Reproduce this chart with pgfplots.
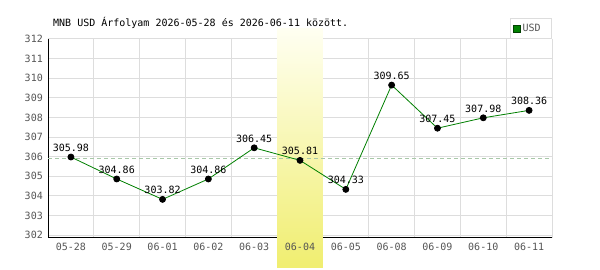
\documentclass[border=0pt]{standalone}
\usepackage{fontspec}
\setmainfont{DejaVu Sans Mono}
\usepackage{pgfplots}
\pgfplotsset{compat=1.18}
\usepackage{pgfplotstable}
\definecolor{lineg}{HTML}{008000}
\definecolor{gridgray}{HTML}{DDDDDD}
\definecolor{tickgray}{HTML}{555555}
\definecolor{avgline}{HTML}{A8C8A8}
\definecolor{hltop}{RGB}{255,255,242}
\definecolor{hlbot}{RGB}{240,238,112}
\newcommand{\fs}{\fontsize{10bp}{11bp}\selectfont}
\pgfplotstableread{
x y label
0 305.98 305.98
1 304.86 304.86
2 303.82 303.82
3 304.86 304.86
4 306.45 306.45
5 305.81 305.81
6 304.33 304.33
7 309.65 309.65
8 307.45 307.45
9 307.98 307.98
10 308.36 308.36
}\usd
\begin{document}
\begin{tikzpicture}
\useasboundingbox (0,0) rectangle (600bp,270bp);
\fill[white] (0,0) rectangle (600bp,270bp);
\node[anchor=base west, font=\fs, inner sep=0pt] at (53bp,243bp) {MNB USD Árfolyam 2026-05-28 és 2026-06-11 között.};
\begin{axis}[
  at={(48bp,32bp)}, anchor=south west,
  scale only axis, width=504bp, height=199bp,
  xmin=-0.5, xmax=10.5, ymin=301.85, ymax=312,
  clip=false,
  axis x line*=bottom, axis y line*=left,
  x axis line style={-, black, line width=1bp},
  y axis line style={-, black, line width=1bp},
  xtick={0,...,10},
  xticklabels={05-28,05-29,06-01,06-02,06-03,{},06-05,06-08,06-09,06-10,06-11},
  minor xtick={0.5,1.5,...,10.5},
  ytick={302,303,...,312},
  major tick length=0pt, minor tick length=0pt,
  ymajorgrids, xminorgrids, xmajorgrids=false,
  grid style={draw=gridgray, line width=1bp},
  minor grid style={draw=gridgray, line width=1bp},
  /pgf/number format/assume math mode=true,
  yticklabel style={font=\fs, text=tickgray, anchor=east, inner sep=0pt, xshift=-5bp},
  xticklabel style={font=\fs, text=tickgray, anchor=north, inner sep=0pt, yshift=-5bp},
  legend style={at={(rel axis cs:1,1)}, anchor=south east, draw=gridgray, line width=1bp,
    inner xsep=3bp, inner ysep=3.5bp, font=\fs, text=tickgray, fill=white},
]
\shade[top color=hltop, bottom color=hlbot] (axis cs:4.5,312.56) rectangle (axis cs:5.5,300.37);
\node[font=\fs, text=tickgray, anchor=north, inner sep=0pt, yshift=-5bp] at (axis cs:5,301.85) {06-04};
\addplot[avgline, dash pattern=on 4bp off 3bp, line width=0.8bp, forget plot] coordinates {(-0.5,305.9) (10.5,305.9)};
\addplot[lineg, line width=0.8bp, mark=*, mark size=3bp, mark options={fill=black, draw=black},
  nodes near coords, point meta=explicit symbolic,
  every node near coord/.append style={font=\fs, text=black, anchor=south, inner sep=0pt, yshift=5bp},
  forget plot] table[x=x, y=y, meta=label] {\usd};
\addlegendimage{legend image code/.code={\draw[fill=lineg, draw=black!50!lineg, line width=0.6bp] (0bp,-3.3bp) rectangle (6.6bp,3.3bp);}}
\addlegendentry{\makebox[24bp][l]{USD}}
\end{axis}
\end{tikzpicture}
\end{document}
